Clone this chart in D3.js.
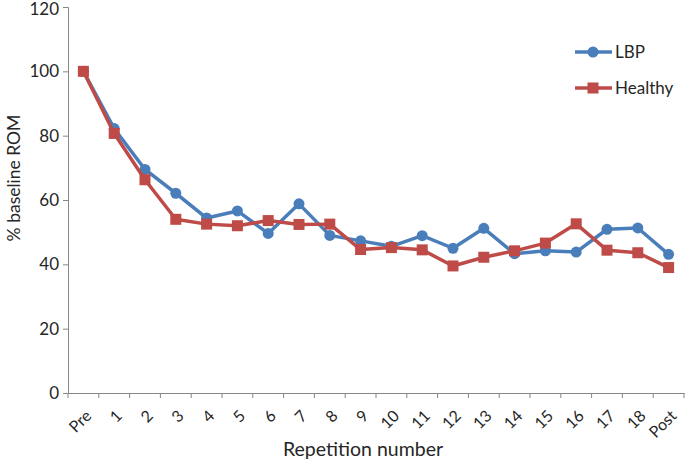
<!DOCTYPE html>
<html><head><meta charset="utf-8">
<script src="https://cdn.jsdelivr.net/npm/d3@7"></script>
<style>body{margin:0;background:#fff}svg{display:block}</style>
</head><body><svg id="c" width="685" height="463"></svg>
<script>
const categories = ["Pre","1","2","3","4","5","6","7","8","9","10","11","12","13","14","15","16","17","18","Post"];
const lbp = [100,82.2,69.5,62.1,54.4,56.6,49.6,58.8,49.0,47.3,45.6,48.9,45.0,51.2,43.3,44.2,43.8,50.9,51.3,43.1];
const healthy = [100,80.7,66.3,54.0,52.5,52.0,53.6,52.4,52.5,44.6,45.2,44.5,39.5,42.2,44.2,46.6,52.6,44.4,43.6,39.0];
const yTicks = [0,20,40,60,80,100,120];

const svg = d3.select("#c");
const font = "Lato, 'Open Sans', sans-serif";
const m = {l:68, t:7, r:1, b:70};
const W = 685, H = 463;
const x = d3.scaleBand().domain(categories).range([m.l, W - m.r]);
const y = d3.scaleLinear().domain([0,120]).range([393, 7]);
const axisColor = "#868686";

// y axis
const ya = svg.append("g").attr("transform", `translate(${m.l},0)`)
  .call(d3.axisLeft(y).tickValues(yTicks).tickSize(5).tickPadding(4));
ya.select(".domain").attr("stroke", axisColor);
ya.selectAll(".tick line").attr("stroke", axisColor);
ya.selectAll(".tick text").attr("fill", "#262626").style("font-family", font).style("font-size", "17px");
ya.selectAll(".tick text").filter(d => d === 120).attr("dy", "0.45em");

// x axis
const xa = svg.append("g").attr("transform", `translate(0,${y(0)})`)
  .call(d3.axisBottom(x).tickSize(0).tickFormat(""));
xa.select(".domain").attr("stroke", axisColor);
const bounds = categories.map(c => x(c)).concat([x(categories[categories.length-1]) + x.bandwidth()]);
xa.selectAll(".bt").data(bounds).enter().append("line")
  .attr("x1", d => d).attr("x2", d => d).attr("y1", 0).attr("y2", 5).attr("stroke", axisColor);
xa.selectAll(".lab").data(categories).enter().append("text")
  .attr("transform", d => `translate(${x(d) + x.bandwidth()/2 + 5},${20}) rotate(-45)`)
  .attr("text-anchor", "end").attr("dy", "0.35em")
  .attr("fill", "#262626").style("font-family", font).style("font-size", "16px").text(d => d);

// titles
svg.append("text").attr("x", 363).attr("y", 456).attr("text-anchor", "middle")
  .attr("fill", "#262626").style("font-family", font).style("font-size", "19.5px").text("Repetition number");
svg.append("text").attr("transform", "translate(20,178) rotate(-90)").attr("text-anchor", "middle")
  .attr("fill", "#262626").style("font-family", font).style("font-size", "17.5px").text("% baseline ROM");

const blue = "#4A7EBB", red = "#BE4B48";
const cx = d => x(d) + x.bandwidth()/2;
const line = d3.line().x((d,i) => cx(categories[i])).y(d => y(d));

svg.append("path").datum(lbp).attr("d", line).attr("fill", "none").attr("stroke", blue).attr("stroke-width", 3.5).attr("stroke-linejoin", "round");
svg.selectAll(".cp").data(lbp).enter().append("circle")
  .attr("cx", (d,i) => cx(categories[i])).attr("cy", d => y(d)).attr("r", 5.5).attr("fill", blue);

svg.append("path").datum(healthy).attr("d", line).attr("fill", "none").attr("stroke", red).attr("stroke-width", 3.5).attr("stroke-linejoin", "round");
svg.selectAll(".sp").data(healthy).enter().append("rect")
  .attr("x", (d,i) => cx(categories[i]) - 5.5).attr("y", d => y(d) - 5.5).attr("width", 11).attr("height", 11).attr("fill", red);

// legend
const leg = [{n:"LBP", c:blue, s:"circle"}, {n:"Healthy", c:red, s:"rect"}];
leg.forEach((l, i) => {
  const ly = 52 + i * 36;
  svg.append("line").attr("x1", 575).attr("x2", 612).attr("y1", ly).attr("y2", ly).attr("stroke", l.c).attr("stroke-width", 3.5);
  if (l.s === "circle") svg.append("circle").attr("cx", 593).attr("cy", ly).attr("r", 5.5).attr("fill", l.c);
  else svg.append("rect").attr("x", 587.5).attr("y", ly - 5.5).attr("width", 11).attr("height", 11).attr("fill", l.c);
  svg.append("text").attr("x", 615).attr("y", ly).attr("dy", "0.35em").attr("fill", "#262626")
    .style("font-family", font).style("font-size", "17px").text(l.n);
});
</script></body></html>
